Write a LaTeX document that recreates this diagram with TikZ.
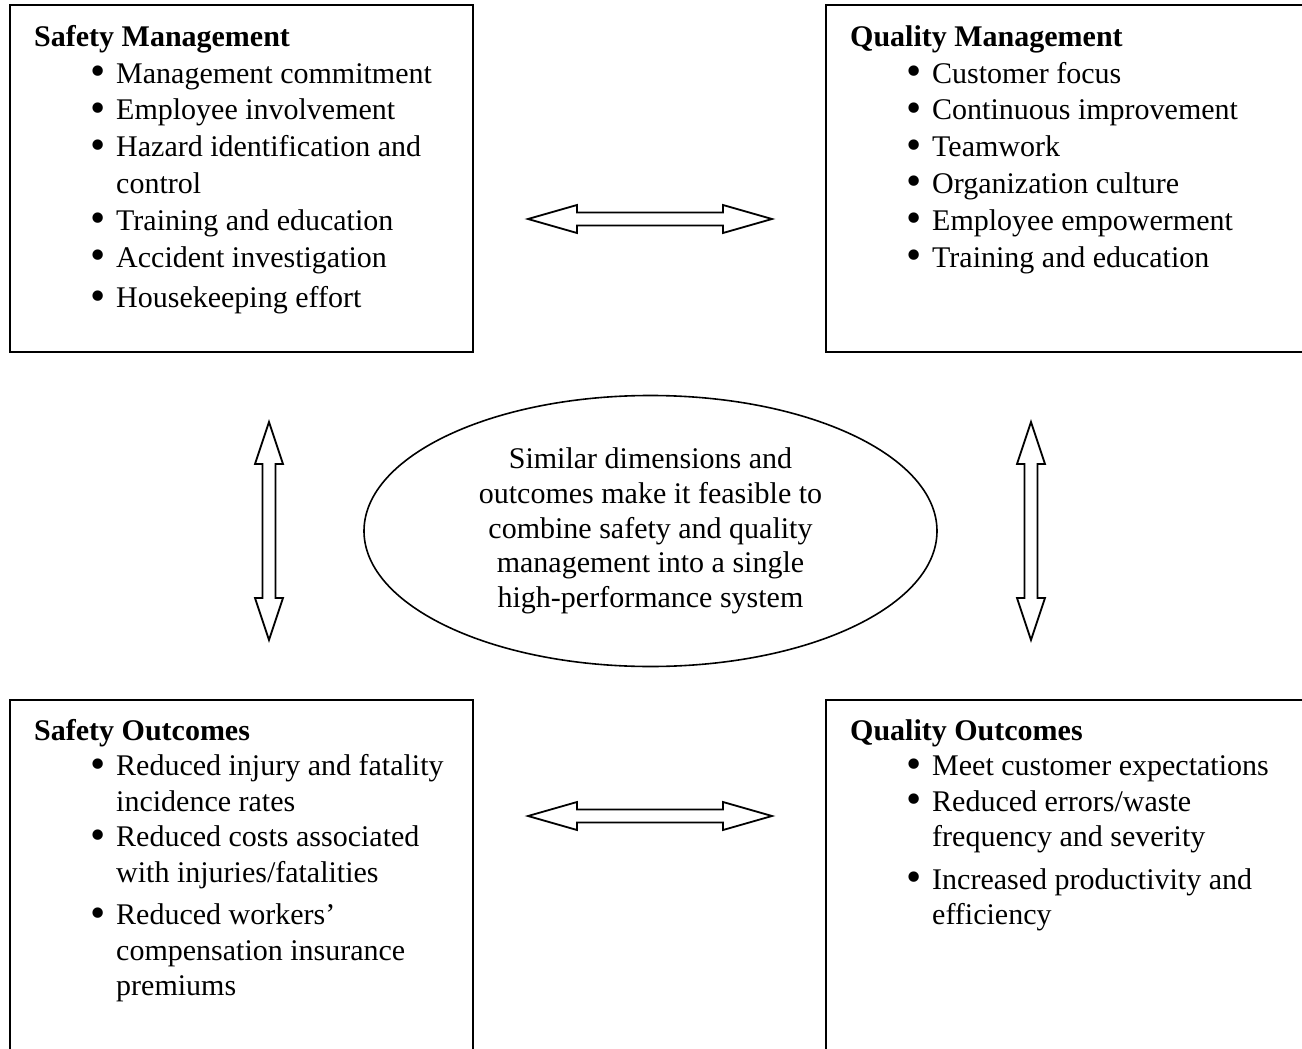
\documentclass[tikz,border=0pt]{standalone}
\usepackage{fontspec}
\usepackage{graphicx}
\setmainfont{Liberation Serif}
\usetikzlibrary{shapes.geometric}

% bullet and continuation indents for the list lines
\newcommand\bul{\makebox[82pt][r]{\raisebox{-2.5pt}{\scalebox{1.45}{\textbullet}}\hspace{10pt}}}
\newcommand\cont{\hspace*{82pt}}

% hollow two-headed block arrow: center, angle, half length, head length
\newcommand\dblblockarrow[4]{%
  \draw[blockarrow, shift={#1}, rotate=#2]
    (-#3,0) -- (-#3+#4,-14) -- (-#3+#4,-6.5) -- (#3-#4,-6.5) -- (#3-#4,-14)
    -- (#3,0) -- (#3-#4,14) -- (#3-#4,6.5) -- (-#3+#4,6.5) -- (-#3+#4,14) -- cycle;}

\begin{document}
\begin{tikzpicture}[x=1pt,y=-1pt,
  panel/.style={draw=black, line width=1.6pt, rectangle, inner sep=0pt},
  body/.style={anchor=north west, inner sep=0pt, align=left,
               font=\fontsize{30}{36.8}\selectfont},
  bodylow/.style={body, font=\fontsize{30}{35.5}\selectfont},
  blockarrow/.style={draw=black, line width=1.8pt, fill=white, line join=miter}]

\useasboundingbox (0,0) rectangle (1302,1049);
\clip (0,0) rectangle (1302,1049);
\fill[white] (0,0) rectangle (1302,1049);

% four panels
\node[panel, minimum width=463pt, minimum height=347pt] (smbox) at (241.5,178.5) {};
\node[panel, minimum width=504pt, minimum height=347pt] (qmbox) at (1078,178.5) {};
\node[panel, minimum width=463pt, minimum height=380pt] (sobox) at (241.5,890) {};
\node[panel, minimum width=504pt, minimum height=380pt] (qobox) at (1078,890) {};

% panel contents
\node[body] (smtext) at (34,20.24) {\strut\textbf{Safety Management}\\
\bul Management commitment\\
\bul Employee involvement\\
\bul Hazard identification and\\
\cont control\\
\bul Training and education\\
\bul Accident investigation\\[4pt]
\bul Housekeeping effort};

\node[body] (qmtext) at (850,20.24) {\strut\textbf{Quality Management}\\
\bul Customer focus\\
\bul Continuous improvement\\
\bul Teamwork\\
\bul Organization culture\\
\bul Employee empowerment\\
\bul Training and education};

\node[bodylow] (sotext) at (34,715.15) {\strut\textbf{Safety Outcomes}\\
\bul Reduced injury and fatality\\
\cont incidence rates\\
\bul Reduced costs associated\\
\cont with injuries/fatalities\\[7pt]
\bul Reduced workers'\\
\cont compensation insurance\\
\cont premiums};

\node[bodylow] (qotext) at (850,715.15) {\strut\textbf{Quality Outcomes}\\
\bul Meet customer expectations\\
\bul Reduced errors/waste\\
\cont frequency and severity\\[7pt]
\bul Increased productivity and\\
\cont efficiency};

% central ellipse
\node[draw=black, ellipse, line width=1.6pt, minimum width=573pt, minimum height=271pt,
      inner sep=0pt, align=center, font=\fontsize{30}{34.7}\selectfont] (core) at (650.5,531)
  {Similar dimensions and\\ outcomes make it feasible to\\ combine safety and quality\\
   management into a single\\ high-performance system};

% linking arrows
\dblblockarrow{(650,219)}{0}{122}{49}
\dblblockarrow{(650,816)}{0}{122}{49}
\dblblockarrow{(269,531)}{90}{109}{42}
\dblblockarrow{(1031,531)}{90}{109}{42}

\end{tikzpicture}
\end{document}
